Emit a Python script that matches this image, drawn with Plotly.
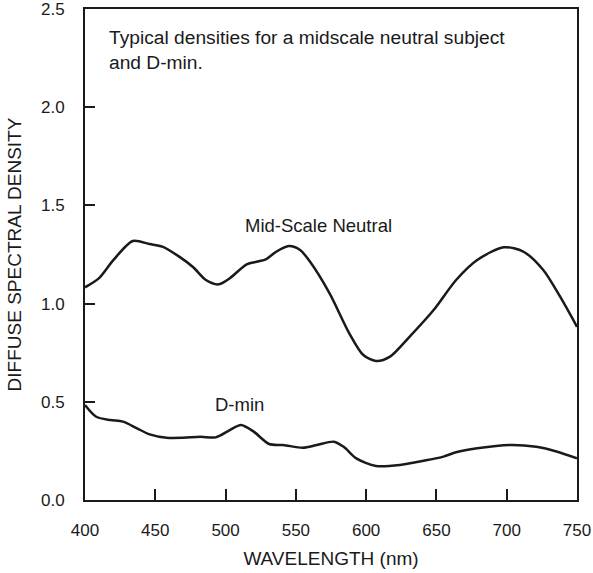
import plotly.graph_objects as go

# Mid-scale neutral density curve
neutral_wl = [400, 410, 420, 434, 446, 455, 467, 477, 486, 495, 503, 515, 523, 529, 536, 545,
              553, 560, 574, 588, 598, 607, 617, 631, 648, 664, 679, 698, 712, 726, 738, 750]
neutral_d = [1.083, 1.13, 1.22, 1.319, 1.303, 1.29, 1.239, 1.185, 1.12, 1.098, 1.129, 1.20, 1.214, 1.227, 1.264, 1.293,
             1.273, 1.214, 1.052, 0.849, 0.738, 0.708, 0.730, 0.832, 0.967, 1.12, 1.222, 1.287, 1.264, 1.171, 1.035, 0.882]

# D-min curve
dmin_wl = [400, 408, 418, 427, 437, 446, 458, 470, 482, 493, 503, 511, 520, 531, 541, 555,
           565, 577, 584, 593, 607, 624, 641, 655, 664, 679, 702, 721, 736, 750]
dmin_d = [0.484, 0.424, 0.407, 0.399, 0.365, 0.334, 0.317, 0.317, 0.322, 0.319, 0.356, 0.382, 0.348, 0.285, 0.280, 0.266,
          0.280, 0.297, 0.271, 0.212, 0.173, 0.178, 0.200, 0.221, 0.243, 0.263, 0.280, 0.271, 0.246, 0.212]

x_ticks = [400, 450, 500, 550, 600, 650, 700, 750]
y_ticks = [0.0, 0.5, 1.0, 1.5, 2.0, 2.5]

ink = "#1a1a1a"
font = "Liberation Sans, Arial, sans-serif"

fig = go.Figure()
fig.add_trace(go.Scatter(x=neutral_wl, y=neutral_d, mode="lines",
                         line=dict(color=ink, width=2.5, shape="spline", smoothing=0.8)))
fig.add_trace(go.Scatter(x=dmin_wl, y=dmin_d, mode="lines",
                         line=dict(color=ink, width=2.5, shape="spline", smoothing=0.8)))

fig.add_annotation(x=416, y=2.357, text="Typical densities for a midscale neutral subject",
                   xanchor="left", yanchor="middle", showarrow=False, font=dict(size=19.2))
fig.add_annotation(x=416, y=2.23, text="and D-min.",
                   xanchor="left", yanchor="middle", showarrow=False, font=dict(size=19.2))
fig.add_annotation(x=566, y=1.40, text="Mid-Scale Neutral", showarrow=False, font=dict(size=18.5))
fig.add_annotation(x=510, y=0.484, text="D-min", showarrow=False, font=dict(size=18.5))

fig.update_layout(
    width=593, height=573,
    margin=dict(l=85, r=16, t=9, b=73),
    plot_bgcolor="white", paper_bgcolor="white",
    showlegend=False,
    font=dict(family=font, size=16, color=ink),
)
fig.update_xaxes(range=[400, 750], tickvals=x_ticks, ticks="inside", ticklen=11,
                 tickcolor=ink, tickwidth=1.5, showline=True, linecolor=ink, linewidth=2,
                 mirror=True, showgrid=False, zeroline=False, ticklabelstandoff=14,
                 tickfont=dict(size=17), automargin=False, ticklabeloverflow="allow",
                 title=dict(text="WAVELENGTH (nm)", standoff=12, font=dict(size=19)))
fig.update_yaxes(range=[0, 2.5], tickvals=y_ticks, tickformat=".1f", ticks="inside", ticklen=10,
                 tickcolor=ink, tickwidth=1.5, showline=True, linecolor=ink, linewidth=2,
                 mirror=True, showgrid=False, zeroline=False, ticklabelstandoff=15,
                 tickfont=dict(size=17), automargin=False, ticklabeloverflow="allow",
                 title=dict(text="DIFFUSE SPECTRAL DENSITY", standoff=14, font=dict(size=19)))

# drop the default 8px body margin so the figure sits at the window's corner
fig.write_html("out.html", config={"displayModeBar": False},
               post_script="document.body.style.margin='0';")
